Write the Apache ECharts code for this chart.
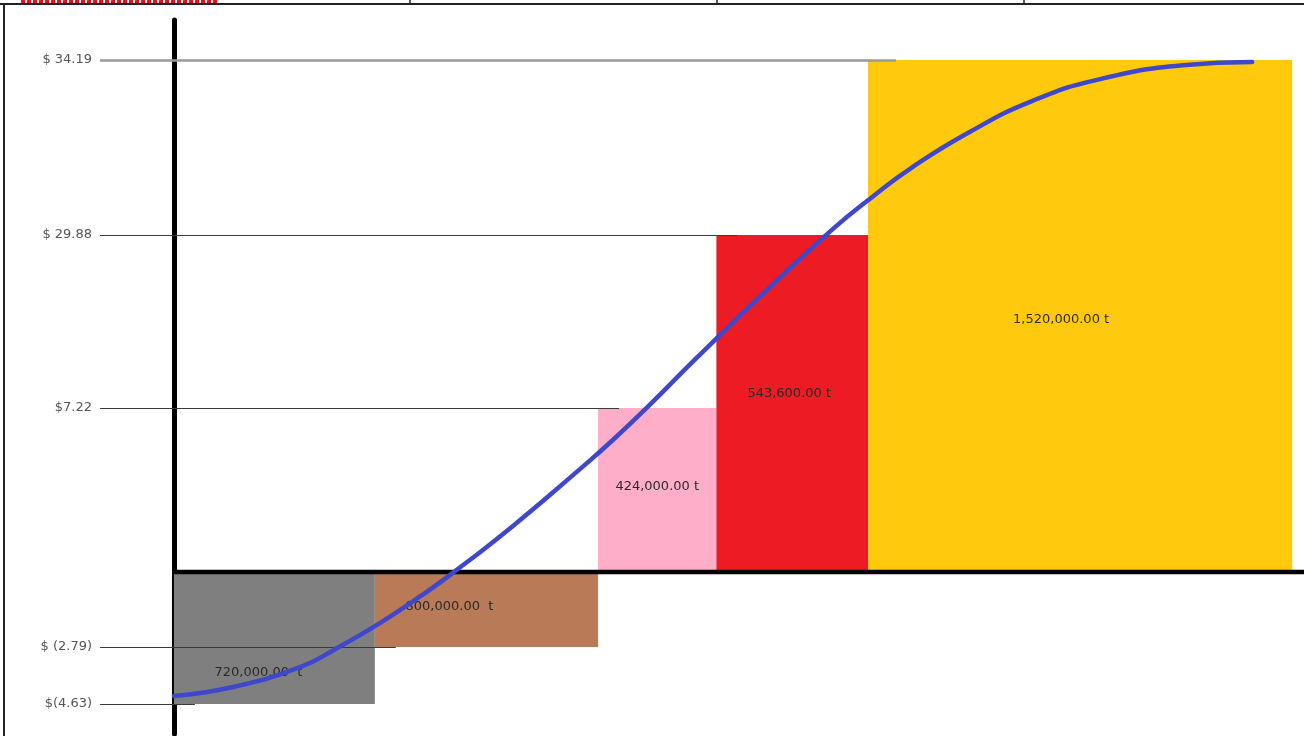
<!DOCTYPE html>
<html>
<head>
<meta charset="utf-8">
<script src="https://cdn.jsdelivr.net/npm/echarts@6/dist/echarts.min.js"></script>
<style>
  html, body { margin: 0; padding: 0; background: #ffffff; }
  #chart { width: 1304px; height: 736px; }
</style>
</head>
<body>
<div id="chart"></div>
<script>
// ---------------- DATA ----------------
const blockLabels = ['720,000.00  t', '800,000.00  t', '424,000.00 t', '543,600.00 t', '1,520,000.00 t'];
const quantities  = [720000, 800000, 424000, 543600, 1520000];
const prices      = [-4.63, -2.79, 7.22, 29.88, 34.19];
const priceTickLabels = ['$(4.63)', '$ (2.79)', '$7.22', '$ 29.88', '$ 34.19'];

// blue curve (cumulative quantity, price)
const curveQty   = [0, 212000, 452000, 570000, 738000, 882000, 996000, 1215000, 1455000, 1573000,
                    1695000, 1874000, 2118000, 2362000, 2505000, 2638000, 2842000, 3079000, 3319000, 3616000, 3864000];
const curvePrice = [-4.37, -4.08, -3.44, -2.90, -1.90, -0.91, -0.06, 2.03, 4.53, 5.81,
                    7.26, 13.81, 22.45, 30.03, 30.83, 31.51, 32.38, 33.19, 33.72, 34.06, 34.14];

// ---------------- SCHEMATIC (non-linear) PRICE AXIS ----------------
// The original drawing spaces the price levels schematically; this piecewise scale reproduces it.
const axisKnots = [-4.63, -2.79, 0, 7.22, 29.88, 34.19];
const axisSpans = [-132, -75, 0, 164, 337, 512];
function tf(p) {
  const k = axisKnots, s = axisSpans;
  let i = 0;
  if (p <= k[0]) i = 0;
  else if (p >= k[k.length - 1]) i = k.length - 2;
  else { while (!(p >= k[i] && p <= k[i + 1])) i++; }
  return s[i] + (p - k[i]) * (s[i + 1] - s[i]) / (k[i + 1] - k[i]);
}

// ---------------- STYLE ----------------
const colors = ['#7F7F7F', '#B97A57', '#FFAEC9', '#ED1C24', '#FFC90E'];
const labelOffsets = [[-16, 35], [-37, -3], [0, -3], [-3, -10], [-19, 4]];
const xMin = -265000, xMax = 4050000;

const starts = [];
let acc = 0;
quantities.forEach(q => { starts.push(acc); acc += q; });

const blockData = quantities.map((q, i) => [starts[i], starts[i] + q, tf(prices[i]), tf(0), i]);

const levelLines = prices.map((p, i) => {
  const top = i === prices.length - 1;
  return [
    { coord: [xMin, tf(p)], label: { formatter: priceTickLabels[i] },
      lineStyle: { color: top ? '#9a9a9a' : '#3a3a3a', width: top ? 2.5 : 1.2, type: 'solid' } },
    { coord: [starts[i] + (top ? 100000 : 75000), tf(p)] }
  ];
});

const chart = echarts.init(document.getElementById('chart'), null, { renderer: 'canvas' });
chart.setOption({
  animation: false,
  backgroundColor: '#ffffff',
  grid: { left: 100, right: 0, top: 20, bottom: 2, containLabel: false },
  xAxis: {
    type: 'value', min: xMin, max: xMax,
    axisLine: { show: false }, axisTick: { show: false }, axisLabel: { show: false }, splitLine: { show: false }
  },
  yAxis: {
    type: 'value', min: -162, max: 552,
    axisLine: { show: true, onZero: true, lineStyle: { color: '#000', width: 5 } },
    axisTick: { show: false }, axisLabel: { show: false }, splitLine: { show: false }
  },
  graphic: [
    { type: 'line', shape: { x1: 0, y1: 4, x2: 1304, y2: 4 }, style: { stroke: '#222', lineWidth: 2 } },
    { type: 'line', shape: { x1: 410, y1: 0, x2: 410, y2: 4 }, style: { stroke: '#222', lineWidth: 1.5 } },
    { type: 'line', shape: { x1: 717, y1: 0, x2: 717, y2: 4 }, style: { stroke: '#222', lineWidth: 1.5 } },
    { type: 'line', shape: { x1: 1024, y1: 0, x2: 1024, y2: 4 }, style: { stroke: '#222', lineWidth: 1.5 } },
    { type: 'line', shape: { x1: 4, y1: 4, x2: 4, y2: 736 }, style: { stroke: '#222', lineWidth: 2 } },
    { type: 'line', shape: { x1: 21, y1: 1.5, x2: 218, y2: 1.5 }, style: { stroke: '#e0141e', lineWidth: 3, lineDash: [4, 2] } }
  ],
  series: [
    {
      type: 'custom',
      z: 2,
      data: blockData,
      encode: { x: [0, 1], y: [2, 3] },
      renderItem: function (params, api) {
        const i = api.value(4);
        const a = api.coord([api.value(0), api.value(2)]);
        const b = api.coord([api.value(1), api.value(3)]);
        const x = Math.min(a[0], b[0]), y = Math.min(a[1], b[1]);
        return {
          type: 'rect',
          shape: { x: x, y: y, width: Math.abs(b[0] - a[0]), height: Math.abs(b[1] - a[1]) },
          style: { fill: colors[i] },
          textContent: {
            style: { text: blockLabels[i], fill: '#2a2a2a', font: '13px "DejaVu Sans", sans-serif' }
          },
          textConfig: { position: 'inside', offset: labelOffsets[i] }
        };
      }
    },
    {
      type: 'line',
      z: 3,
      data: [],
      silent: true,
      markLine: {
        symbol: ['none', 'none'],
        silent: true,
        animation: false,
        label: { show: true, position: 'start', distance: 8, color: '#555', fontSize: 13, fontFamily: 'DejaVu Sans' },
        data: levelLines
      }
    },
    {
      type: 'line',
      z: 4,
      data: [[0, tf(0)], [xMax, tf(0)]],
      symbol: 'none',
      lineStyle: { color: '#000', width: 4.5 }
    },
    {
      type: 'line',
      z: 6,
      data: curveQty.map((q, i) => [q, tf(curvePrice[i])]),
      smooth: 0.5,
      symbol: 'none',
      lineStyle: { color: '#3F48CC', width: 4.5, cap: 'round' }
    }
  ]
});
</script>
</body>
</html>
